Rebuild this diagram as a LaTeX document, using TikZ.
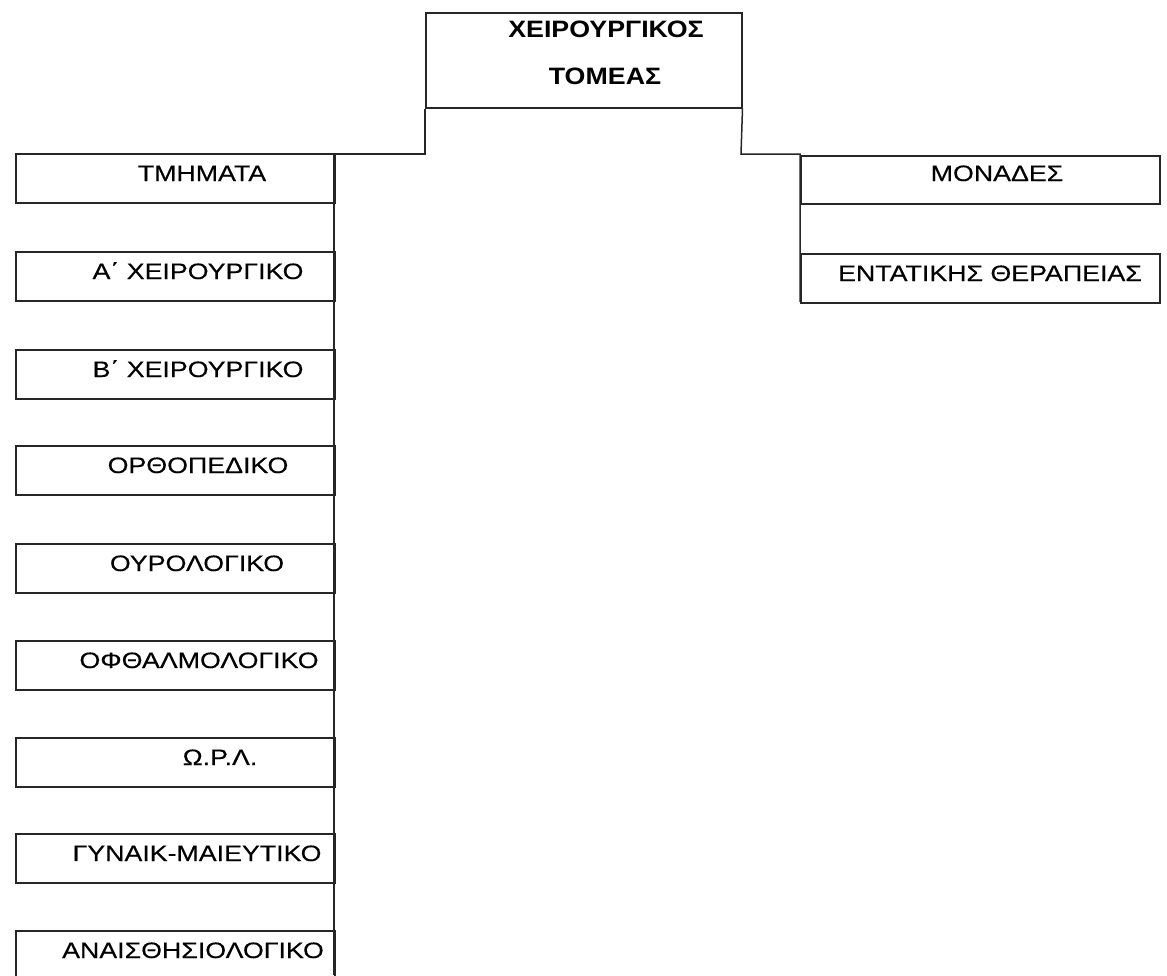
\documentclass[tikz,border=0pt]{standalone}
\usepackage{fontspec}
\setmainfont{Liberation Sans}
\newfontfamily\regf[FakeStretch=1.2,FakeBold=0.3]{Liberation Sans}
\newfontfamily\boldf[FakeStretch=1.13]{Liberation Sans Bold}
\begin{document}
\begin{tikzpicture}[x=1pt,y=-1pt,
  box/.style={draw=black!85, line width=1.5pt, rectangle, inner sep=0pt, anchor=north west},
  lbox/.style={box, minimum width=319pt, minimum height=49pt},
  rbox/.style={box, minimum width=359pt, minimum height=48pt},
  lbl/.style={anchor=base, inner sep=0pt, font=\regf\fontsize{22.3}{26}\selectfont},
  blbl/.style={anchor=base, inner sep=0pt, font=\boldf\fontsize{23.7}{28}\selectfont},
  conn/.style={draw=black!85, line width=1.5pt}]
\useasboundingbox (0,0) rectangle (1167,975);
\clip (0,0) rectangle (1167,975);
% top box
\node[box, minimum width=316pt, minimum height=95pt] (top) at (425,12) {};
\node[blbl] (toptxt1) at (606,37) {ΧΕΙΡΟΥΡΓΙΚΟΣ};
\node[blbl] (toptxt2) at (605,84) {ΤΟΜΕΑΣ};
% connector points
\coordinate (lj) at (425,154);
\coordinate (lt) at (334,154);
\coordinate (lb) at (334,975);
\coordinate (rj) at (741,154);
\coordinate (rt) at (800,154);
\coordinate (rb) at (800,302);
\draw[conn] (top.south west) -- (lj) -- (lt) -- (lb);
\draw[conn] (top.south east) -- (rj) -- (rt) -- (rb);
% left boxes
\node[lbox] (l1) at (15,153) {};
\node[lbox] (l2) at (15,251) {};
\node[lbox] (l3) at (15,349) {};
\node[lbox] (l4) at (15,445) {};
\node[lbox] (l5) at (15,543) {};
\node[lbox] (l6) at (15,640) {};
\node[lbox] (l7) at (15,737) {};
\node[lbox] (l8) at (15,833) {};
\node[lbox] (l9) at (15,930) {};
\node[lbl] (l1t) at (202,181) {ΤΜΗΜΑΤΑ};
\node[lbl] (l2t) at (198,279) {Α΄ ΧΕΙΡΟΥΡΓΙΚΟ};
\node[lbl] (l3t) at (198,377) {Β΄ ΧΕΙΡΟΥΡΓΙΚΟ};
\node[lbl] (l4t) at (198,473) {ΟΡΘΟΠΕΔΙΚΟ};
\node[lbl] (l5t) at (197,571) {ΟΥΡΟΛΟΓΙΚΟ};
\node[lbl] (l6t) at (199,668) {ΟΦΘΑΛΜΟΛΟΓΙΚΟ};
\node[lbl] (l7t) at (220,765) {Ω.Ρ.Λ.};
\node[lbl] (l8t) at (197,861) {ΓΥΝΑΙΚ-ΜΑΙΕΥΤΙΚΟ};
\node[lbl] (l9t) at (193,958) {ΑΝΑΙΣΘΗΣΙΟΛΟΓΙΚΟ};
% right boxes
\node[rbox] (r1) at (800,155) {};
\node[rbox, minimum height=49pt] (r2) at (800,253) {};
\node[lbl] (r1t) at (997,181) {ΜΟΝΑΔΕΣ};
\node[lbl] (r2t) at (990,281) {ΕΝΤΑΤΙΚΗΣ ΘΕΡΑΠΕΙΑΣ};
\end{tikzpicture}
\end{document}
